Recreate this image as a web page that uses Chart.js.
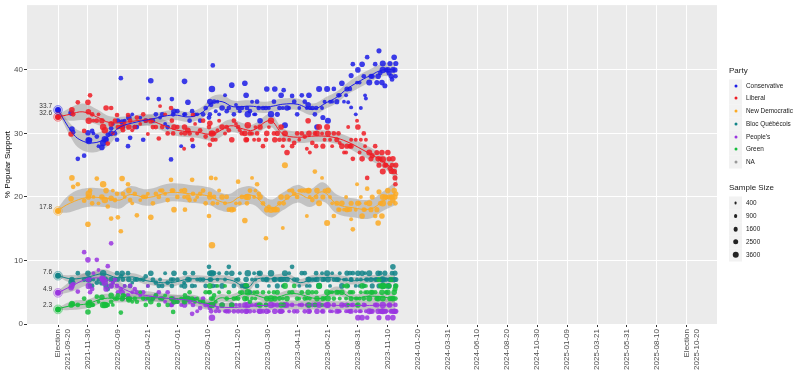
<!DOCTYPE html>
<html>
<head>
<meta charset="utf-8">
<script src="https://cdn.jsdelivr.net/npm/chart.js@4"></script>
<style>
  html, body { margin: 0; background: #fff; }
  #wrap { position: relative; width: 800px; height: 373px; font-family: "Liberation Sans", sans-serif; overflow: hidden; }
  .lg { position: absolute; white-space: nowrap; line-height: 1; transform: translateY(-50%); }
  .key { position: absolute; left: 729px; width: 13px; height: 13px; background: #f2f2f2; transform: translateY(-50%); }
  .dot { position: absolute; border-radius: 50%; transform: translate(-50%, -50%); }
</style>
</head>
<body>
<div id="wrap">
  <canvas id="pollChart"></canvas>
</div>
<script>
/* =========================
   DATA
========================= */
const tickDates = [
  "2021-09-20", "2021-11-30", "2022-02-09", "2022-04-21", "2022-07-01", "2022-09-10",
  "2022-11-20", "2023-01-30", "2023-04-11", "2023-06-21", "2023-08-31", "2023-11-10",
  "2024-01-20", "2024-03-31", "2024-06-10", "2024-08-20", "2024-10-30", "2025-01-09",
  "2025-03-21", "2025-05-31", "2025-08-10", "2025-10-20"
];
const tickDays = [0, 71, 142, 213, 284, 355, 426, 497, 568, 639, 710, 781, 852, 923, 994, 1065, 1136, 1207, 1278, 1349, 1420, 1491];
const yTicks = [0, 10, 20, 30, 40];

const partyNames = ["Conservative", "Liberal", "New Democratic", "Bloc Québécois", "People's", "Green", "NA"];
const partyColors = ["#1c1ce6", "#ee1c25", "#fbaa24", "#128488", "#9a35e0", "#16bd3c", "#999999"];
const sampleLevels = [400, 900, 1600, 2500, 3600];

// election result, one per party, same order as the names
const electionValues = [33.7, 32.6, 17.8, 7.6, 4.9, 2.3];

// polls: days since the election and sample size, then one list per party
const pollDays = [
  31, 33, 36, 47, 62, 71, 72, 73, 76, 81, 92, 104, 107, 111, 114, 118, 126, 126, 140, 142,
  149, 152, 154, 166, 168, 171, 187, 202, 213, 220, 225, 239, 242, 254, 268, 270, 273, 275, 292, 299,
  300, 301, 308, 318, 320, 330, 344, 358, 360, 360, 363, 365, 367, 374, 382, 389, 396, 405, 412, 417,
  427, 431, 443, 446, 448, 450, 455, 460, 465, 472, 479, 486, 495, 493, 505, 514, 520, 529, 535, 533,
  538, 543, 555, 567, 578, 590, 593, 595, 597, 609, 612, 614, 619, 626, 628, 638, 640, 645, 654, 661,
  668, 673, 683, 685, 688, 695, 695, 699, 706, 709, 711, 718, 721, 725, 730, 733, 738, 745, 752, 759,
  761, 768, 770, 770, 775, 782, 787, 790, 794, 797, 799, 800, 801,
  84, 96, 130, 135, 158, 176, 182, 195, 208, 232, 247, 260, 283, 312, 325, 337, 350, 370, 378, 400,
  422, 436, 468, 476, 500, 512, 525, 548, 560, 572, 585, 603, 632, 650, 665, 678, 692, 715, 728, 742,
  756, 764, 778, 785, 792
];
const pollSamples = [
  2500, 2500, 1600, 1600, 1600, 2500, 2500, 3600, 1600, 1600, 1600, 2500, 3600, 3600, 2500, 1600, 1600, 2500, 1600, 1600,
  1600, 2500, 1600, 1600, 2500, 1600, 1600, 1600, 1000, 2500, 1600, 1600, 1000, 1000, 1600, 1600, 1600, 2500, 1000, 1000,
  2500, 1600, 2500, 1600, 1600, 1000, 1600, 1600, 2500, 1600, 1600, 3600, 1600, 1000, 1000, 2500, 1000, 1600, 2500, 1600,
  1600, 1000, 2500, 2500, 1600, 3600, 1600, 1000, 1000, 1600, 2500, 1600, 2500, 1600, 3600, 2500, 2000, 2500, 1600, 1000,
  3000, 2500, 1600, 1600, 1600, 1000, 2500, 2500, 1000, 1600, 1600, 2500, 3000, 1000, 2000, 3000, 3000, 1000, 1600, 2000,
  1000, 2500, 1000, 2000, 1000, 1000, 2000, 1600, 1000, 1000, 2500, 1000, 2500, 1600, 1000, 1600, 3000, 2000, 1600, 2500,
  2000, 2500, 3600, 3000, 2000, 2500, 2000, 2000, 2500, 2500, 2000, 1600, 2000,
  900, 900, 900, 1600, 900, 900, 1600, 900, 1600, 1600, 1600, 1600, 1600, 1600, 900, 1600, 1600, 1600, 900, 1600,
  900, 1600, 900, 1600, 900, 1600, 1600, 900, 1600, 900, 1600, 1600, 1000, 900, 1600, 900, 1600, 1000, 900, 2000,
  2000, 1600, 1600, 2000, 1600
];
const conservativePolls = [
  33.2, 30.7, 30.2, 26, 26.5, 30.1, 29, 28.8, 29, 30.4, 29.5, 27.8, 28.5, 29.1, 29, 29.8, 30.8, 30, 29, 32,
  38.7, 31.8, 31, 28, 32.5, 29.3, 31, 29, 35.5, 38.3, 32, 35.4, 32.5, 31.5, 25.9, 35.4, 33, 33.5, 28, 33,
  38.2, 33, 34.9, 33.5, 28, 33, 33, 32.5, 35, 33, 34.5, 37, 40.7, 33.5, 33, 34, 36, 34, 37.6, 33,
  34, 33.5, 37.9, 36, 34, 33, 33.5, 35, 33, 35, 32, 34, 37, 34, 33, 37, 33, 36, 36.8, 34,
  31.3, 34, 35.9, 33, 36, 34, 34.5, 36, 34, 33, 34, 31, 37, 34, 32.5, 37, 32, 35, 37, 35,
  36, 37.9, 36, 37, 34.9, 34.1, 39.1, 40.9, 33, 38, 40, 34, 40.9, 39, 35.5, 42, 38, 39, 40.9, 39,
  43, 38, 40, 41, 37.5, 40, 41, 39, 40, 42, 40, 39, 41,
  30, 28, 31.5, 30, 32, 33, 31, 32.5, 32, 33, 33, 31, 33.5, 32, 33, 32, 34, 35, 35, 33.5,
  34.5, 34, 33, 34, 34, 35, 34, 34, 35, 34, 35, 34, 35, 35, 36, 35, 37, 38, 36, 39,
  38, 39.5, 40, 39.5, 38.5
];
const liberalPolls = [
  29.9, 33.7, 33, 34.9, 30.4, 34.9, 33.4, 32, 36, 33, 32, 32, 31, 30.5, 34, 28.4, 34, 31.5, 32.9, 31,
  31, 31, 30.5, 32.9, 31, 32, 32.5, 33, 29.9, 32, 31, 29.2, 34.3, 33, 34, 32, 30, 31, 30, 27.6,
  31, 30, 30.5, 29, 32.9, 30, 32, 31, 31.6, 28.2, 30, 30, 29, 29, 32, 31, 30, 30.5, 29, 32,
  31, 30.5, 30, 29, 29, 31.3, 30, 30, 29, 30, 31, 28, 30, 29, 32, 29, 30, 31, 29, 28,
  30, 27, 28, 30, 30, 27.6, 32, 30, 27, 30, 28, 30, 31, 30, 28, 31, 30, 29, 30, 29,
  28.5, 28, 27, 28, 31, 29, 28, 26, 29, 32, 31, 29, 26, 30, 29, 23, 27, 26.5, 28, 26,
  25, 27, 25.9, 24, 25, 27, 24.5, 24, 26, 24, 23, 22, 25,
  32, 33, 30, 32, 31.5, 30.5, 31, 31.5, 32, 31, 31, 30, 31, 30, 31.5, 30.5, 29.5, 30, 30.5, 31,
  31.5, 30, 31, 29, 31, 30, 29, 29, 28.5, 29, 29.5, 28.5, 29, 28, 30, 27, 28, 27, 28, 26,
  27, 26, 25, 26, 25
];
const ndpPolls = [
  19.7, 23, 21.6, 22, 19.4, 15.7, 20, 20.5, 21, 19, 22.9, 20, 22, 19.5, 21, 18.5, 16.6, 19.8, 20.5, 16.8,
  14.6, 22.9, 20.5, 22, 21, 19.5, 17.1, 20, 20.5, 16.8, 19, 20, 21, 20.5, 22.7, 21, 21, 18, 21, 20,
  21, 18, 20, 22.7, 20.5, 20, 21, 17, 20, 20.5, 23, 12.4, 19, 22.9, 21, 20, 19, 18, 18, 18,
  22.4, 19, 16.3, 20, 19, 20, 21, 23, 20, 22, 20, 19, 18, 13.5, 18, 18, 18, 20, 19, 15.1,
  25, 20, 21, 20, 21, 17, 21, 21, 20, 24, 20, 21, 19, 23, 20, 15.9, 21, 20, 17, 19,
  18, 19, 20, 18, 18, 16.5, 19, 14.9, 18, 22, 19, 20, 17, 18, 19, 21.3, 19, 20, 17, 15.9,
  20.8, 17, 19, 20, 20, 21, 19, 20, 19.5, 21, 20, 19, 20.5,
  20, 19, 21, 19.5, 20, 19, 20.5, 19.5, 20, 20.5, 21, 19.5, 20, 19.5, 19.5, 20.5, 19, 20, 19, 20,
  19, 20, 21, 20.5, 18.5, 18, 19, 21, 20.5, 21, 21, 19.5, 21, 19, 18, 18, 18, 19, 18, 18,
  18, 19, 20, 20, 20
];
const blocPolls = [
  6.6, 7, 6.5, 8, 7, 8, 7, 7, 6, 6, 6.5, 6.5, 8, 7, 6, 5.5, 6, 7, 8, 7,
  7.5, 8, 7, 8, 7, 6, 7, 7, 6, 8, 7, 6, 7, 8, 7, 6, 7, 8, 6, 6.5,
  6, 8, 7, 6, 8, 7, 7, 9, 8, 7, 7, 8, 6, 6, 8, 6, 7, 9, 8, 6,
  7, 8, 6, 7, 6, 8, 5, 7, 8, 6, 8, 7, 7, 7, 8, 7, 6, 7, 7, 6,
  8, 7, 9, 7, 8, 6, 7, 7, 6, 7, 8, 7, 6, 8, 7, 8, 7, 6, 7, 7,
  8, 6, 7, 8, 6, 7, 7, 8, 6, 7, 8, 7, 8, 6, 7, 7, 8, 6, 7, 8,
  6, 7, 7, 6, 8, 6, 7, 7, 9, 7, 8, 6, 7,
  7, 7, 6.5, 7, 6, 6.5, 7, 7, 7.5, 6.5, 6, 6.5, 7, 7, 6, 7, 6, 8, 7, 8,
  7, 6, 7, 8, 6, 7, 7, 8, 7, 6, 8, 7, 7, 8, 7, 7, 8, 6, 8, 7,
  7, 8, 7, 6, 8
];
const ppcPolls = [
  5.7, 6, 6.3, 5.1, 11.3, 10.1, 7, 6, 5, 5.5, 10.1, 7.2, 7, 6.5, 5.5, 9.1, 12.7, 6, 6, 5,
  5.5, 5, 4, 4.5, 4, 6, 5, 5, 6, 4, 4, 5, 4, 3.5, 3, 3, 4, 3.5, 3, 3.5,
  3, 4, 4, 1.6, 3, 2, 4, 3, 3, 2.5, 2, 1, 3, 2, 2, 3, 2, 2, 3, 2,
  2, 3, 3, 2, 2, 3, 2, 3, 2, 3, 2, 2, 2, 3, 3, 2, 3, 2, 3, 2,
  3, 3, 3, 2, 3, 3, 3, 2, 2, 3, 3, 2, 3, 2, 2, 3, 3, 2, 3, 2,
  2, 3, 2, 3, 2, 3, 2, 3, 2, 3, 1, 2, 1, 3, 2, 1, 2, 2, 3, 2,
  1, 2, 3, 2, 2, 1, 3, 2, 1, 2, 2, 3, 2,
  8, 8.5, 6.5, 7, 6, 5, 5.5, 4.5, 4, 4.5, 4, 5, 3.5, 3.5, 4, 2.5, 3, 3, 2.5, 2,
  3, 2, 3, 2, 2, 3, 2, 2, 2, 3, 2, 3, 3, 2, 2, 3, 2, 2, 3, 2,
  3, 2, 2, 3, 2
];
const greenPolls = [
  3, 3.2, 3.1, 3, 4, 1.9, 3.3, 3, 3.5, 3, 4.3, 4.2, 3, 3, 3, 3, 3.5, 4.5, 4, 4.5,
  1.8, 4, 4.5, 4, 3.8, 4, 3.5, 4, 4, 3.5, 4, 3, 4, 4.5, 4, 4, 1.9, 3.5, 4, 4,
  3.5, 4.5, 4, 4, 3.8, 4, 3.5, 5, 6, 5, 4, 3, 4, 3.5, 5, 3, 6, 5, 3, 4,
  4, 5, 4, 6, 4, 5, 3.5, 4, 5, 5, 3, 5, 4, 3, 4, 4, 5, 3, 3, 4,
  6, 4, 5, 4, 5, 4, 5, 3, 4, 3, 5, 4, 6, 3, 4, 5, 4, 5, 4, 5,
  4, 5, 4, 6, 3, 5, 4, 5, 4, 4, 3, 5, 6, 4, 6, 5, 4, 5, 5, 4,
  7, 5, 6, 4, 6, 5, 4, 7, 4, 5, 5.5, 4, 6,
  3, 3.5, 3, 4, 4.5, 3.5, 4, 5, 3, 4.5, 4, 3, 3.5, 5, 3.5, 3.5, 5, 4.5, 6, 4,
  4, 5, 4, 3, 5, 5, 4, 5, 6, 4, 4, 5, 4, 5, 5, 6, 5, 4, 5, 5,
  4, 6, 5, 6, 4
];

// smoothed trends, read at knots, with half width of the gray ribbon
const conservativeTrendDays = [0, 33, 52, 83, 116, 147, 187, 225, 273, 313, 344, 365, 389, 415, 455, 486, 510, 533, 567, 604, 638, 661, 685, 709, 740, 770, 799];
const conservativeTrend = [33.7, 30.2, 29, 28.5, 29.3, 31, 31.8, 32.3, 32.9, 32.6, 33.4, 34.8, 35, 34.2, 34.3, 34.1, 34.3, 34.6, 34.6, 33.8, 34.9, 35.7, 37, 38, 39.1, 40, 40];
const conservativeBand = [0.3, 1.1, 1.4, 1.5, 1.4, 1, 0.8, 0.8, 0.8, 0.8, 0.9, 1, 1.1, 1, 0.9, 0.9, 0.9, 0.9, 0.9, 0.9, 0.9, 0.9, 0.9, 1, 1, 1, 1.2];

const liberalTrendDays = [0, 28, 59, 92, 123, 164, 211, 249, 282, 330, 367, 408, 439, 462, 503, 533, 567, 614, 652, 685, 723, 763, 794, 804];
const liberalTrend = [32.6, 33, 33.4, 32.6, 31.7, 31.8, 32.1, 31.3, 30.5, 30.2, 29.9, 31.2, 30.7, 30.5, 32, 29.9, 29.4, 29.6, 29.4, 28.7, 27.4, 25.9, 24.4, 23.5];
const liberalBand = [0.3, 1, 1.3, 1.2, 1, 0.9, 0.9, 0.9, 0.9, 0.9, 1, 1, 0.9, 0.9, 1, 0.9, 0.9, 0.9, 0.9, 0.9, 1, 1, 1.1, 1.4];

const ndpTrendDays = [0, 28, 69, 116, 147, 171, 211, 265, 313, 360, 384, 408, 431, 462, 503, 533, 567, 597, 628, 661, 699, 740, 770, 799];
const ndpTrend = [17.9, 19, 19.9, 19.8, 19.5, 20.4, 19.9, 20.7, 20.5, 20.1, 19.3, 19.1, 20, 20.2, 18.2, 19.3, 20.5, 19.8, 20.8, 18.9, 18.3, 18.1, 19.3, 20.5];
const ndpBand = [0.4, 1.4, 1.5, 1.4, 1.3, 1.3, 1.3, 1.4, 1.4, 1.4, 1.4, 1.4, 1.4, 1.4, 1.4, 1.4, 1.4, 1.4, 1.5, 1.5, 1.5, 1.5, 1.5, 1.8];

const blocTrendDays = [0, 33, 71, 107, 140, 178, 211, 265, 313, 360, 384, 415, 448, 472, 503, 543, 574, 604, 645, 699, 740, 799];
const blocTrend = [7.6, 7.1, 7.4, 7.9, 7.3, 7.4, 6.8, 6.5, 7.1, 7, 7.1, 6.8, 5.7, 7.1, 7.1, 7.3, 6.5, 7.1, 7.3, 6.8, 7.1, 7.1];
const blocBand = [0.2, 0.6, 0.7, 0.7, 0.7, 0.6, 0.6, 0.6, 0.6, 0.6, 0.6, 0.6, 0.7, 0.6, 0.6, 0.6, 0.6, 0.6, 0.6, 0.6, 0.6, 0.7];

const ppcTrendDays = [0, 33, 71, 111, 142, 178, 218, 265, 313, 360, 408, 480, 600, 700, 799];
const ppcTrend = [4.9, 6, 7.1, 7.1, 6, 4.9, 4.4, 4, 3.7, 2.9, 2.6, 2.9, 3, 2.9, 3];
const ppcBand = [0.3, 0.9, 1, 0.9, 0.8, 0.7, 0.7, 0.7, 0.7, 0.7, 0.7, 0.7, 0.7, 0.7, 1.1];

const greenTrendDays = [0, 33, 71, 107, 147, 187, 235, 273, 320, 360, 384, 408, 448, 503, 557, 621, 661, 699, 740, 799];
const greenTrend = [2.4, 2.9, 3.2, 4, 4, 4.1, 4.1, 4, 4, 3.2, 4.1, 4, 4.8, 4, 4.8, 4, 5.2, 4.1, 4.4, 4];
const greenBand = [0.2, 0.7, 0.7, 0.7, 0.6, 0.6, 0.6, 0.6, 0.6, 0.7, 0.6, 0.6, 0.6, 0.6, 0.6, 0.6, 0.7, 0.6, 0.6, 0.8];

/* =========================
   BUILD DATASETS
========================= */
const pollLists = [conservativePolls, liberalPolls, ndpPolls, blocPolls, ppcPolls, greenPolls];
const trendLists = [
  [conservativeTrendDays, conservativeTrend, conservativeBand],
  [liberalTrendDays, liberalTrend, liberalBand],
  [ndpTrendDays, ndpTrend, ndpBand],
  [blocTrendDays, blocTrend, blocBand],
  [ppcTrendDays, ppcTrend, ppcBand],
  [greenTrendDays, greenTrend, greenBand]
];

const sampleRadius = (n) => 0.55 + Math.sqrt(n) * 0.045;
const pollRadius = pollSamples.map(sampleRadius);

const datasets = [];

trendLists.forEach(([days, trend, band]) => {
  // ribbon: upper edge fills down to lower edge
  datasets.push({
    type: "line",
    data: days.map((d, i) => ({ x: d, y: trend[i] + band[i] })),
    borderColor: "transparent",
    borderWidth: 0,
    pointRadius: 0,
    tension: 0.4,
    fill: "+1",
    backgroundColor: "rgba(153,153,153,0.5)",
    order: 60
  });
  datasets.push({
    type: "line",
    data: days.map((d, i) => ({ x: d, y: trend[i] - band[i] })),
    borderColor: "transparent",
    borderWidth: 0,
    pointRadius: 0,
    tension: 0.4,
    fill: false,
    order: 60
  });
});

pollLists.forEach((values, p) => {
  datasets.push({
    type: "scatter",
    label: partyNames[p],
    data: values.map((v, i) => ({ x: pollDays[i], y: v })),
    backgroundColor: partyColors[p] + "d9",
    borderWidth: 0,
    pointRadius: pollRadius,
    order: 50 - p
  });
});

trendLists.forEach(([days, trend], p) => {
  datasets.push({
    type: "line",
    data: days.map((d, i) => ({ x: d, y: trend[i] })),
    borderColor: partyColors[p],
    borderWidth: 1,
    pointRadius: 0,
    tension: 0.4,
    fill: false,
    order: 10
  });
});

electionValues.forEach((v, p) => {
  datasets.push({
    type: "scatter",
    data: [{ x: 0, y: v }],
    backgroundColor: partyColors[p],
    borderWidth: 0,
    pointRadius: 3,
    order: 5
  });
  datasets.push({
    type: "scatter",
    data: [{ x: 0, y: v }],
    backgroundColor: partyColors[p] + "33",
    borderColor: partyColors[p] + "99",
    borderWidth: 0.7,
    pointRadius: 4.4,
    order: 4
  });
});

/* =========================
   PLUGINS – PANEL + ELECTION LABELS
========================= */
const panelPlugin = {
  id: "panel",
  beforeDraw(chart) {
    const { ctx, chartArea: a } = chart;
    ctx.save();
    ctx.fillStyle = "#ebebeb";
    ctx.fillRect(a.left, a.top, a.right - a.left, a.bottom - a.top);
    ctx.restore();
  }
};

const electionLabelPlugin = {
  id: "electionLabels",
  afterDatasetsDraw(chart) {
    const { ctx, scales } = chart;
    ctx.save();
    ctx.font = '6.5px "Liberation Sans"';
    ctx.fillStyle = "#333333";
    ctx.textAlign = "right";
    ctx.textBaseline = "middle";
    electionValues.forEach((v) => {
      ctx.fillText(v.toFixed(1), scales.x.getPixelForValue(0) - 6, scales.y.getPixelForValue(v) - 4);
    });
    ctx.restore();
  }
};

/* =========================
   CHART
========================= */
new Chart(document.getElementById("pollChart"), {
  data: { datasets },
  plugins: [panelPlugin, electionLabelPlugin],
  options: {
    responsive: true,
    maintainAspectRatio: false,
    animation: false,
    layout: { padding: { top: 2, right: 83, left: 0, bottom: 0 } },
    plugins: {
      legend: { display: false },
      tooltip: { enabled: false }
    },
    scales: {
      x: {
        type: "linear",
        min: -73.5,
        max: 1562.4,
        border: { display: false },
        grid: { color: "#ffffff", tickColor: "#333333", tickLength: 3, lineWidth: 1 },
        ticks: {
          font: { family: "Liberation Sans", size: 8 },
          color: "#4d4d4d",
          padding: 2,
          minRotation: 90,
          maxRotation: 90,
          autoSkip: false,
          callback: (value) => {
            const i = tickDays.indexOf(value);
            if (i === 0) return ["Election", tickDates[0]];
            if (i === tickDates.length - 1) return ["Election", tickDates[i]];
            return tickDates[i];
          }
        },
        afterBuildTicks: (scale) => { scale.ticks = tickDays.map((value) => ({ value })); },
        afterFit: (scale) => {
          scale.height = 49;
          scale.paddingLeft = 0;
          scale.paddingRight = 0;
        }
      },
      y: {
        min: 0,
        max: 50.2,
        border: { display: false },
        grid: { color: "#ffffff", tickColor: "#333333", tickLength: 3, lineWidth: 1 },
        title: {
          display: true,
          text: "% Popular Support",
          font: { family: "Liberation Sans", size: 8 },
          color: "#000000",
          padding: { top: 3, bottom: 0 }
        },
        ticks: {
          font: { family: "Liberation Sans", size: 8 },
          color: "#4d4d4d",
          padding: 1
        },
        afterBuildTicks: (scale) => { scale.ticks = yTicks.map((value) => ({ value })); },
        afterFit: (scale) => {
          scale.width = 27;
          scale.paddingTop = 0;
          scale.paddingBottom = 0;
        }
      }
    }
  }
});

/* =========================
   LEGENDS – PARTY + SAMPLE SIZE
========================= */
const wrap = document.getElementById("wrap");

function addText(text, left, top, size) {
  const el = document.createElement("div");
  el.className = "lg";
  el.textContent = text;
  el.style.left = left + "px";
  el.style.top = top + "px";
  el.style.fontSize = size + "px";
  el.style.color = "#1a1a1a";
  wrap.appendChild(el);
}

function addKey(top, radius, color) {
  const key = document.createElement("div");
  key.className = "key";
  key.style.top = top + "px";
  wrap.appendChild(key);
  const dot = document.createElement("div");
  dot.className = "dot";
  dot.style.left = "735.5px";
  dot.style.top = top + "px";
  dot.style.width = dot.style.height = radius * 2 + "px";
  dot.style.background = color;
  wrap.appendChild(dot);
}

addText("Party", 729, 71, 8);
partyNames.forEach((name, i) => {
  const top = 85.7 + i * 12.75;
  addKey(top, 1.5, partyColors[i]);
  addText(name, 746, top, 6.4);
});

addText("Sample Size", 729, 188, 8);
sampleLevels.forEach((n, i) => {
  const top = 203.3 + i * 12.85;
  addKey(top, sampleRadius(n), "#222222");
  addText(String(n), 746, top, 6.4);
});
</script>
</body>
</html>
